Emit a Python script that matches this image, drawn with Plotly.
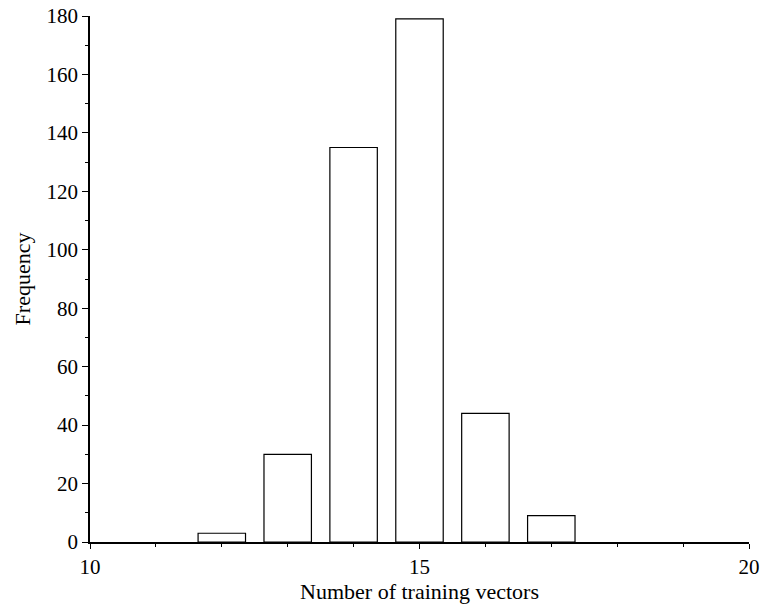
import plotly.graph_objects as go

vectors = [12, 13, 14, 15, 16, 17]
frequency = [3, 30, 135, 179, 44, 9]
x_ticks = [10, 15, 20]
y_ticks = [0, 20, 40, 60, 80, 100, 120, 140, 160, 180]

fig = go.Figure(go.Bar(
    x=vectors, y=frequency, width=0.72,
    marker=dict(color="white", line=dict(color="black", width=1.2)),
    hoverinfo="skip",
))

font = dict(family="Liberation Serif, Times New Roman, serif", size=21, color="black")

fig.update_layout(
    width=762, height=606,
    margin=dict(l=90, r=13, t=16, b=64, autoexpand=False),
    plot_bgcolor="white", paper_bgcolor="white",
    showlegend=False,
    font=font,
    xaxis=dict(
        range=[10, 20], tickvals=x_ticks, ticktext=[str(v) for v in x_ticks],
        ticks="outside", ticklen=5, tickwidth=1.2, tickcolor="black",
        showline=True, linecolor="black", linewidth=1.5,
        showgrid=False, zeroline=False, automargin=False,
        minor=dict(dtick=1, tick0=10, ticks="outside", ticklen=3, tickcolor="black", showgrid=False),
        title=dict(text="Number of training vectors", font=dict(size=22), standoff=6),
        tickfont=dict(size=21),
    ),
    yaxis=dict(
        range=[0, 180], tickvals=y_ticks,
        ticks="outside", ticklen=6, tickwidth=1.2, tickcolor="black",
        showline=True, linecolor="black", linewidth=1.5,
        showgrid=False, zeroline=False, automargin=False,
        minor=dict(dtick=10, tick0=0, ticks="outside", ticklen=3, tickcolor="black", showgrid=False),
        title=dict(text="Frequency", font=dict(size=22), standoff=10),
        tickfont=dict(size=21),
    ),
)

fig.write_html("out.html", config={"displayModeBar": False},
               post_script="document.body.style.margin='0';document.body.style.overflow='hidden';")
